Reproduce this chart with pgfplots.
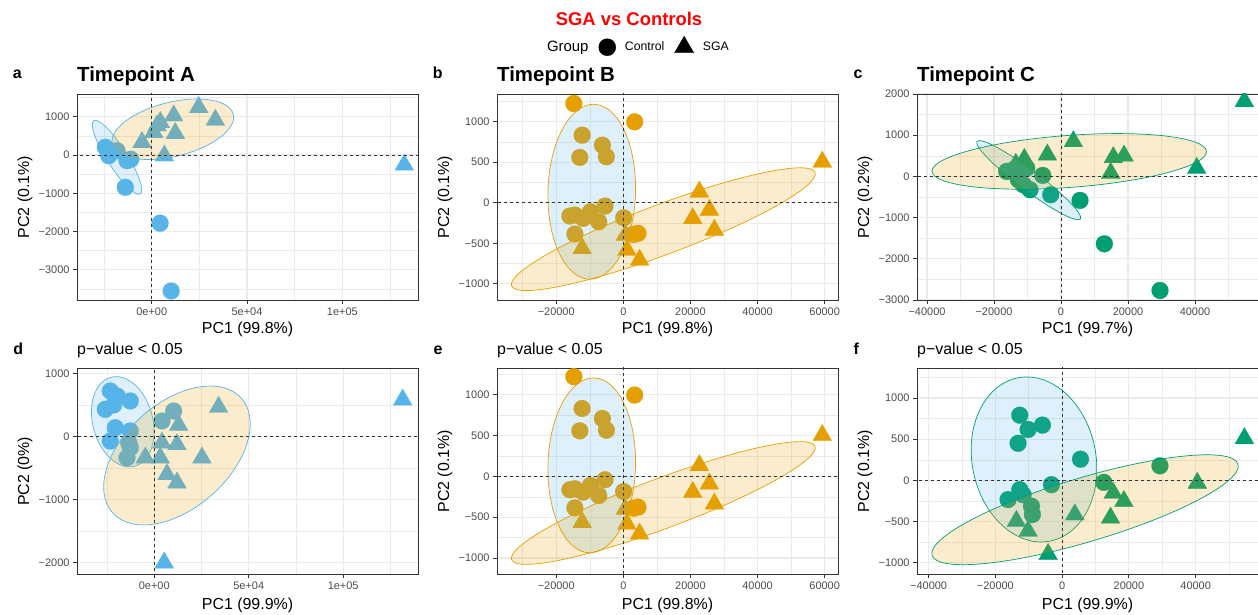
\documentclass[border=0pt]{standalone}
\usepackage{fontspec}
\setmainfont{Liberation Sans}
\usepackage{pgfplots}
\pgfplotsset{compat=1.18}
\definecolor{cblue}{HTML}{56B4E9}
\definecolor{corange}{HTML}{E69F00}
\definecolor{cgreen}{HTML}{009E73}
\definecolor{gridc}{gray}{0.92}
\definecolor{framec}{gray}{0.2}
\definecolor{ticklab}{gray}{0.3}
\newcommand{\pcaell}[7]{\draw[draw=#2, line width=0.7bp, fill=#1, fill opacity=0.2, rotate around={#7:(axis cs:#3,#4)}] (axis cs:#3,#4) ellipse [x radius=#5bp, y radius=#6bp];}
\pgfplotsset{
  pca/.style={
    scale only axis, width=341bp, height=206bp, anchor=south west,
    axis line style={framec, line width=0.9bp},
    tick style={framec, line width=0.9bp},
    tick align=outside, major tick length=4bp, minor tick length=0pt,
    xtick pos=left, ytick pos=left,
    grid=both,
    major grid style={gridc, line width=1.1bp},
    minor grid style={gridc, line width=0.55bp},
    ticklabel style={font=\fontsize{11}{11}\selectfont, text=ticklab},
    scaled ticks=false,
    clip=true, clip marker paths=true,
  },
  ctrl/.style={only marks, color=#1, mark=*, mark size=8.5bp, mark options={fill=#1, draw=#1, line width=0.1bp}, forget plot},
  sga/.style={only marks, color=#1, mark=triangle*, mark size=11bp, mark options={fill=#1, draw=#1, line width=0.1bp}, forget plot},
  zl/.style={black!80, line width=0.6bp, dash pattern=on 3bp off 3bp, forget plot},
}
\begin{document}
\begin{tikzpicture}
\useasboundingbox (0,0) rectangle (1258bp,615bp);
% ---------------- panel a
\begin{axis}[pca, at={(77bp,315bp)}, xmin=-39200, xmax=139700, ymin=-3785, ymax=1592,
  xtick={0,50000,100000}, xticklabels={0e+00,5e+04,1e+05},
  ytick={-3000,-2000,-1000,0,1000}, yticklabels={−3000,−2000,−1000,0,1000},
  minor xtick={-25000,25000,75000,125000}, minor ytick={-3500,-2500,-1500,-500,500,1500}]
\addplot[ctrl=cblue] coordinates {(-24340,201) (-22560,-18) (-18200,112) (-12960,-149) (-11000,-110) (-13850,-843) (4400,-1780) (10200,-3550)};
\addplot[sga=cblue] coordinates {(24660,1245) (33370,914) (11540,1026) (4510,854) (2780,765) (1050,593) (12380,567) (-5090,332) (6610,-18) (132500,-260)};
\pcaell{cblue}{cblue}{-18200}{-60}{43.4}{10}{-57.6}
\pcaell{corange}{cblue}{11070}{671}{62.3}{27.1}{13.9}
\addplot[zl] coordinates {(0,-5000) (0,3000)};
\addplot[zl] coordinates {(-50000,0) (150000,0)};
\end{axis}
% ---------------- panel b
\begin{axis}[pca, at={(497bp,315bp)}, xmin=-37650, xmax=63980, ymin=-1198, ymax=1339,
  xtick={-20000,0,20000,40000,60000}, xticklabels={−20000,0,20000,40000,60000},
  ytick={-1000,-500,0,500,1000}, yticklabels={−1000,−500,0,500,1000},
  minor xtick={-30000,-10000,10000,30000,50000}, minor ytick={-750,-250,250,750,1250},
  legend style={draw=none, fill=none, at={(0.400,1.233)}, anchor=center, legend columns=3,
    font=\fontsize{12.3}{12.3}\selectfont, nodes={inner sep=0pt},
    /tikz/every odd column/.append style={column sep=9bp},
    /tikz/every even column/.append style={column sep=10bp}}]
\addlegendimage{empty legend}\addlegendentry{\fontsize{15}{15}\selectfont Group}
\addlegendimage{legend image code/.code={\fill[black] (0bp,0bp) circle (8.5bp);}}\addlegendentry{Control}
\addlegendimage{legend image code/.code={\fill[black] (90:11bp) -- (210:11bp) -- (330:11bp) -- cycle;}}\addlegendentry{SGA}
\addplot[ctrl=corange] coordinates {(-14750,1222) (3370,996) (-12280,832) (-6240,709) (-12970,558) (-5050,566) (-14450,-152) (-15940,-164) (-9800,-111) (-11980,-193) (-7330,-234) (-5450,-41) (100,-185) (-14450,-385) (4360,-377) (3000,-390)};
\addplot[sga=corange] coordinates {(-12280,-562) (1090,-582) (600,-400) (4850,-705) (22670,135) (25640,-90) (20690,-193) (27130,-336) (59300,504)};
\pcaell{cblue}{corange}{-9420}{135}{87.5}{43.8}{88.4}
\pcaell{corange}{corange}{11920}{-326}{162}{25}{20.5}
\addplot[zl] coordinates {(0,-2000) (0,2000)};
\addplot[zl] coordinates {(-50000,0) (80000,0)};
\end{axis}
% ---------------- panel c
\begin{axis}[pca, at={(917bp,315bp)}, xmin=-42990, xmax=58800, ymin=-3000, ymax=2000,
  xtick={-40000,-20000,0,20000,40000}, xticklabels={−40000,−20000,0,20000,40000},
  ytick={-3000,-2000,-1000,0,1000,2000}, yticklabels={−3000,−2000,−1000,0,1000,2000},
  minor xtick={-30000,-10000,10000,30000,50000}, minor ytick={-2500,-1500,-500,500,1500}]
\addplot[ctrl=cgreen] coordinates {(-16220,121) (-14230,162) (-10250,202) (-12740,-81) (-11240,-202) (-9250,-324) (-5470,24) (-3080,-445) (5670,-583) (12940,-1636) (29550,-2769)};
\addplot[sga=cgreen] coordinates {(-13500,300) (-10950,421) (-4080,526) (3680,850) (15620,462) (18800,502) (14830,81) (40500,202) (54720,1822)};
\pcaell{cblue}{cgreen}{-9640}{-92}{64.6}{10}{-36.9}
\pcaell{corange}{cgreen}{2450}{364}{137.6}{26}{4.2}
\addplot[zl] coordinates {(0,-4000) (0,3000)};
\addplot[zl] coordinates {(-50000,0) (70000,0)};
\end{axis}
% ---------------- panel d
\begin{axis}[pca, at={(77bp,41bp)}, xmin=-40900, xmax=139600, ymin=-2184, ymax=1086,
  xtick={0,50000,100000}, xticklabels={0e+00,5e+04,1e+05},
  ytick={-2000,-1000,0,1000}, yticklabels={−2000,−1000,0,1000},
  minor xtick={-25000,25000,75000,125000}, minor ytick={-1500,-500,500}]
\addplot[ctrl=cblue] coordinates {(-23280,721) (-19600,640) (-12700,562) (-21500,500) (-25930,429) (-20630,138) (-23280,-73) (-12700,86) (-12700,-179) (-14440,-338) (-13500,-100) (4070,244) (10260,403)};
\addplot[sga=cblue] coordinates {(34070,467) (12910,181) (12010,-127) (4070,-100) (-4760,-338) (3170,-338) (6720,-603) (12010,-735) (25240,-338) (131500,582) (5290,-2005)};
\pcaell{cblue}{cblue}{-16670}{233}{46}{30}{-75}
\pcaell{corange}{cblue}{12010}{-303}{86.2}{52.6}{41.6}
\addplot[zl] coordinates {(0,-3000) (0,2000)};
\addplot[zl] coordinates {(-50000,0) (150000,0)};
\end{axis}
% ---------------- panel e
\begin{axis}[pca, at={(497bp,41bp)}, xmin=-37650, xmax=63980, ymin=-1196, ymax=1328,
  xtick={-20000,0,20000,40000,60000}, xticklabels={−20000,0,20000,40000,60000},
  ytick={-1000,-500,0,500,1000}, yticklabels={−1000,−500,0,500,1000},
  minor xtick={-30000,-10000,10000,30000,50000}, minor ytick={-750,-250,250,750,1250}]
\addplot[ctrl=corange] coordinates {(-14750,1222) (3370,996) (-12280,832) (-6240,709) (-12970,558) (-5050,566) (-14450,-152) (-15940,-164) (-9800,-111) (-11980,-193) (-7330,-234) (-5450,-41) (100,-185) (-14450,-385) (4360,-377) (3000,-390)};
\addplot[sga=corange] coordinates {(-12280,-562) (1090,-582) (600,-400) (4850,-705) (22670,135) (25640,-90) (20690,-193) (27130,-336) (59300,504)};
\pcaell{cblue}{corange}{-9420}{135}{87.5}{43.8}{88.4}
\pcaell{corange}{corange}{11920}{-326}{162}{25}{20.5}
\addplot[zl] coordinates {(0,-2000) (0,2000)};
\addplot[zl] coordinates {(-50000,0) (80000,0)};
\end{axis}
% ---------------- panel f
\begin{axis}[pca, at={(917bp,41bp)}, xmin=-43480, xmax=58680, ymin=-1136, ymax=1364,
  xtick={-40000,-20000,0,20000,40000}, xticklabels={−40000,−20000,0,20000,40000},
  ytick={-1000,-500,0,500,1000}, yticklabels={−1000,−500,0,500,1000},
  minor xtick={-30000,-10000,10000,30000,50000}, minor ytick={-750,-250,250,750,1250}]
\addplot[ctrl=cgreen] coordinates {(-12700,791) (-10200,618) (-5900,671) (-13200,450) (5500,257) (-3200,-52) (12500,-24) (29300,177) (-12700,-112) (-16200,-233) (-11700,-173) (-9200,-313) (-8900,-414)};
\addplot[sga=cgreen] coordinates {(-13700,-494) (-10200,-614) (-4200,-896) (3800,-414) (15300,-153) (18500,-253) (14500,-454) (40500,-32) (54600,510)};
\pcaell{cblue}{cgreen}{-8430}{254}{83.2}{61.9}{-78.8}
\pcaell{corange}{cgreen}{6870}{-356}{159.6}{32}{16.6}
\addplot[zl] coordinates {(0,-2000) (0,2000)};
\addplot[zl] coordinates {(-50000,0) (70000,0)};
\end{axis}
% ---------------- texts
\node[anchor=base, text=red, font=\bfseries\fontsize{18.5}{18.5}\selectfont] at (629bp,589bp) {SGA vs Controls};
\begin{scope}[every node/.style={inner sep=0pt}]
\foreach \lab/\x in {a/12.7, b/432.7, c/853.3}
  \node[anchor=base west, font=\bfseries\fontsize{16}{16}\selectfont] at (\x bp,536.7bp) {\lab};
\foreach \lab/\x in {d/13.3, e/433.3, f/853.3}
  \node[anchor=base west, font=\bfseries\fontsize{16}{16}\selectfont] at (\x bp,260bp) {\lab};
\foreach \lab/\x in {A/77, B/497, C/917}
  \node[anchor=base west, font=\bfseries\fontsize{20.5}{20.5}\selectfont] at (\x bp,533.3bp) {Timepoint \lab};
\foreach \x in {77, 497, 917}
  \node[anchor=base west, font=\fontsize{16}{16}\selectfont] at (\x bp,260bp) {p−value < 0.05};
\foreach \t/\x in {99.8/247.5, 99.8/667.5, 99.7/1087.5}
  \node[anchor=base, font=\fontsize{16}{16}\selectfont] at (\x bp,281bp) {PC1 (\t\%)};
\foreach \t/\x in {99.9/247.5, 99.8/667.5, 99.9/1087.5}
  \node[anchor=base, font=\fontsize{16}{16}\selectfont] at (\x bp,6bp) {PC1 (\t\%)};
\foreach \t/\x in {0.1/29, 0.1/449, 0.2/869}
  \node[anchor=base, rotate=90, font=\fontsize{16}{16}\selectfont] at (\x bp,418bp) {PC2 (\t\%)};
\foreach \t/\x in {0/29, 0.1/449, 0.1/869}
  \node[anchor=base, rotate=90, font=\fontsize{16}{16}\selectfont] at (\x bp,143.7bp) {PC2 (\t\%)};
\end{scope}
\end{tikzpicture}
\end{document}
